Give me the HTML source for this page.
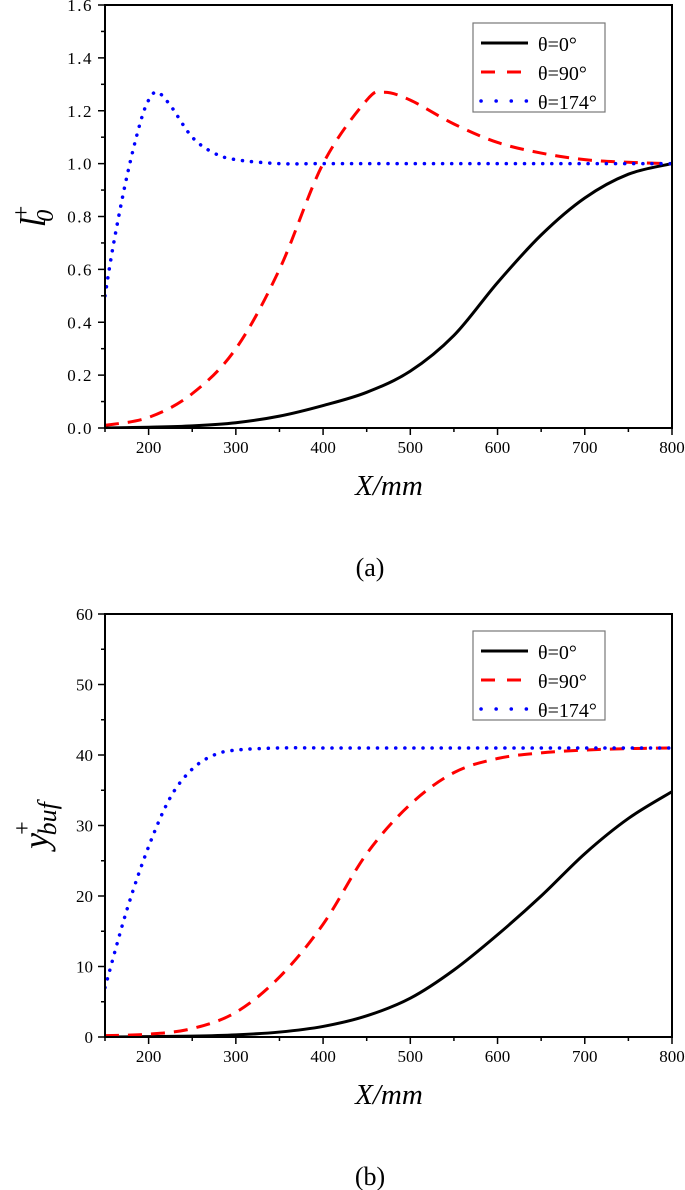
<!DOCTYPE html>
<html><head><meta charset="utf-8"><style>
body{margin:0;background:#fff;}
svg{display:block;font-family:"Liberation Serif",serif;}
</style></head><body>
<svg id="fig" width="685" height="1190" viewBox="0 0 685 1190" xmlns="http://www.w3.org/2000/svg"></svg>
<script>
// ---- data ----
const aX0=[150,200,250,300,350,400,450,500,550,600,650,700,750,800];
const aY0=[0,0.003,0.008,0.02,0.045,0.085,0.135,0.215,0.35,0.55,0.73,0.87,0.96,1.0];
const aX90=[150,200,250,300,350,400,450,470,500,550,600,650,700,750,800];
const aY90=[0.01,0.04,0.13,0.3,0.6,1.0,1.24,1.27,1.24,1.15,1.08,1.04,1.015,1.005,1.0];
const aX174=[150,160,175,190,200,210,225,250,275,300,350,400,500,600,700,800];
const aY174=[0.5,0.7,0.95,1.15,1.24,1.27,1.22,1.1,1.04,1.015,1.0,1.0,1.0,1.0,1.0,1.0];
const bX0=[150,200,250,300,350,400,450,500,550,600,650,700,750,800];
const bY0=[0,0.05,0.12,0.3,0.7,1.5,3,5.5,9.5,14.5,20,26,31,34.8];
const bX90=[150,200,250,300,350,400,450,500,550,600,650,700,750,800];
const bY90=[0.2,0.4,1.2,3.5,8.5,16,26,33,37.5,39.5,40.3,40.7,40.9,41];
const bX174=[150,175,200,225,250,275,300,350,400,500,600,700,800];
const bY174=[7,18,27,34,38,40,40.7,41,41,41,41,41,41];
const xTicks=[200,300,400,500,600,700,800];
const aYTicks=["0.0","0.2","0.4","0.6","0.8","1.0","1.2","1.4","1.6"];
const bYTicks=["0","10","20","30","40","50","60"];
const legendLabels=["θ=0°","θ=90°","θ=174°"];

const NS="http://www.w3.org/2000/svg";
const svg=document.getElementById('fig');
function mk(tag,attrs,parent){const e=document.createElementNS(NS,tag);for(const k in attrs)e.setAttribute(k,attrs[k]);(parent||svg).appendChild(e);return e;}
function smooth(pts){let d="M"+pts[0][0]+","+pts[0][1];for(let i=0;i<pts.length-1;i++){const p0=pts[i-1]||pts[i],p1=pts[i],p2=pts[i+1],p3=pts[i+2]||p2;
const c1=[p1[0]+(p2[0]-p0[0])/6,p1[1]+(p2[1]-p0[1])/6],c2=[p2[0]-(p3[0]-p1[0])/6,p2[1]-(p3[1]-p1[1])/6];
d+=` C${c1[0]},${c1[1]} ${c2[0]},${c2[1]} ${p2[0]},${p2[1]}`;}return d;}

function panel(cfg){
  const L=105,R=672,T=cfg.top,B=cfg.bottom;
  const xs=v=>L+(v-150)/(800-150)*(R-L);
  const ys=v=>B-(v-cfg.ymin)/(cfg.ymax-cfg.ymin)*(B-T);
  const g=mk('g',{});
  
  
  const series=[[cfg.x0,cfg.y0,'#000','none','series-theta-0'],[cfg.x90,cfg.y90,'#f00','14 9','series-theta-90'],[cfg.x174,cfg.y174,'#00f','0.1 9','series-theta-174']];
  const clip=mk('clipPath',{id:'c'+cfg.name},g);mk('rect',{x:L,y:T,width:R-L,height:B-T},clip);
  series.forEach(s=>{const pts=s[0].map((x,i)=>[xs(x),ys(s[1][i])]);
    const p=mk('path',{d:smooth(pts),fill:'none',stroke:s[2],'stroke-width':s[2]=='#00f'?3.5:3,'stroke-dasharray':s[3],'stroke-linecap':s[2]=='#00f'?'round':'butt','clip-path':`url(#c${cfg.name})`},g);
    
    });
  const frame=mk('rect',{x:L,y:T,width:R-L,height:B-T,fill:'none',stroke:'#000','stroke-width':2},g);
  
  
  for(let v=150;v<=800;v+=50){const X=xs(v);mk('line',{x1:X,x2:X,y1:B,y2:B+(v%100==0?7:4),stroke:'#000','stroke-width':1.5},g);}
  xTicks.forEach(v=>{const t=mk('text',{x:xs(v),y:B+25,'font-size':17,'text-anchor':'middle'},g);t.textContent=v;
    
    });
  const n=cfg.ticks.length-1;
  for(let i=0;i<=2*n;i++){const Y=T+(B-T)*i/(2*n);mk('line',{x1:L,x2:L-(i%2==0?7:4),y1:Y,y2:Y,stroke:'#000','stroke-width':1.5},g);}
  cfg.ticks.forEach((lab,i)=>{const t=mk('text',{x:L-12,y:ys(parseFloat(lab))+6,'font-size':17,'text-anchor':'end','letter-spacing':cfg.ls},g);t.textContent=lab;
    
    });
  const xt=mk('text',{x:389,y:B+67,'font-size':29,'font-style':'italic','text-anchor':'middle'},g);xt.textContent="X/mm";
  
  
  const yt=mk('text',{transform:`translate(${cfg.ylx},${(T+B)/2}) rotate(-90)`,'font-size':36,'font-style':'italic','text-anchor':'middle'},g);
  
  
  yt.innerHTML=cfg.ylab;
  const cap=mk('text',{x:370,y:B+148,'font-size':26,'text-anchor':'middle'},g);cap.textContent=cfg.cap;
  
  
  const lg=mk('g',{},g);
  
  
  const ly=cfg.legTop;
  mk('rect',{x:473,y:ly,width:132,height:89,fill:'#fff',stroke:'#777','stroke-width':1.2},lg);
  series.forEach((s,i)=>{const Y=ly+20+i*29;
    mk('line',{x1:481,x2:528,y1:Y,y2:Y,stroke:s[2],'stroke-width':s[2]=='#00f'?3.5:3,'stroke-dasharray':s[3]=='none'?'none':(i==1?'14 12':'0.1 15'),'stroke-linecap':i==2?'round':'butt'},lg);
    const t=mk('text',{x:538,y:Y+8,'font-size':20},lg);t.textContent=legendLabels[i];
    
    });
}
panel({name:'panel-a',top:5,bottom:428,ymin:0,ymax:1.6,ticks:aYTicks,ls:1.5,ylx:45,x0:aX0,y0:aY0,x90:aX90,y90:aY90,x174:aX174,y174:aY174,
  ylab:'l<tspan dy="-16" dx="-2" font-style="normal" font-size="24">+</tspan><tspan dy="24" dx="-16" font-size="24">0</tspan>',cap:'(a)',legTop:23});
panel({name:'panel-b',top:614,bottom:1037,ymin:0,ymax:60,ticks:bYTicks,ls:0,ylx:48,x0:bX0,y0:bY0,x90:bX90,y90:bY90,x174:bX174,y174:bY174,
  ylab:'y<tspan dy="-18" dx="-2" font-style="normal" font-size="24">+</tspan><tspan dy="26" dx="-14" font-size="26">buf</tspan>',cap:'(b)',legTop:631});
</script>
</body></html>
